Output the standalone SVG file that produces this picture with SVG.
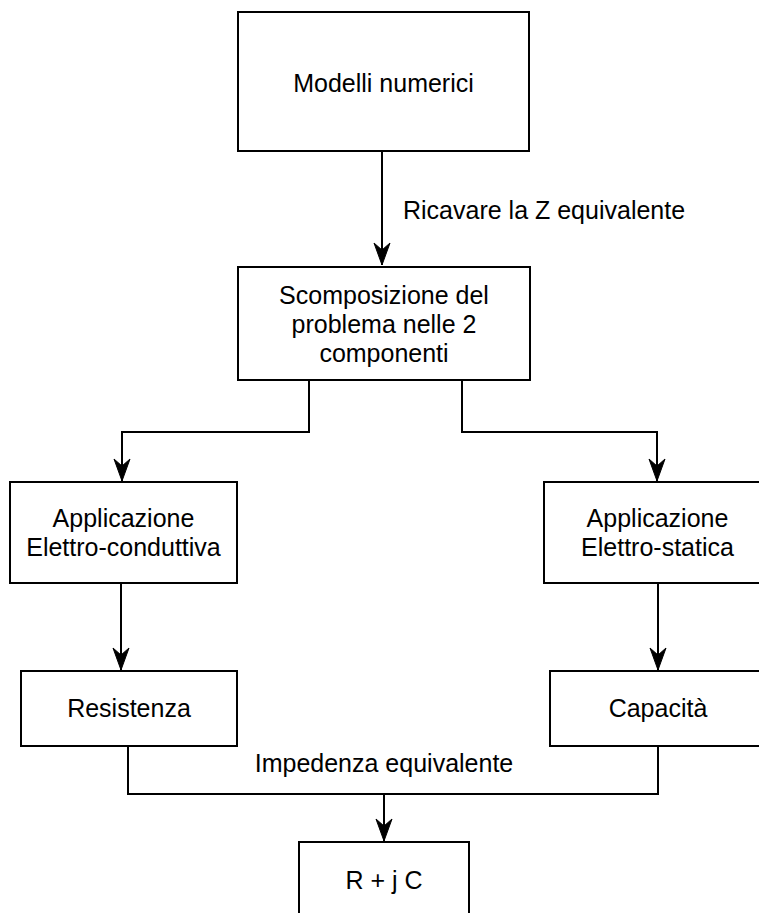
<svg xmlns="http://www.w3.org/2000/svg" width="759" height="913" viewBox="0 0 759 913">
<style>
  .box { fill: #ffffff; stroke: #000000; stroke-width: 2; }
  .lbl { font-family: "Liberation Sans", Arial, Helvetica, sans-serif; font-size: 25px; fill: #000000; }
  .c { text-anchor: middle; }
  .edge { fill: none; stroke: #000000; stroke-width: 2; }
</style>
<defs>
  <marker id="arr" markerUnits="userSpaceOnUse" viewBox="-23 -9 24 18" refX="0" refY="0" markerWidth="24" markerHeight="18" orient="auto">
    <path d="M0,0 L-22,-8 L-15,0 L-22,8 Z" fill="#000000" stroke="#000000" stroke-width="1"/>
  </marker>
</defs>
<rect width="759" height="913" fill="#ffffff"/>

<g id="connectors">
  <path class="edge" d="M382,151 L382,265" marker-end="url(#arr)"/>
  <text class="lbl" x="403" y="219">Ricavare la Z equivalente</text>
  <path class="edge" d="M309,380 L309,432 L122,432 L122,481" marker-end="url(#arr)"/>
  <path class="edge" d="M462,380 L462,432 L657,432 L657,481" marker-end="url(#arr)"/>
  <path class="edge" d="M121,583 L121,670" marker-end="url(#arr)"/>
  <path class="edge" d="M658,583 L658,670" marker-end="url(#arr)"/>
  <path class="edge" d="M128,746 L128,794 L658,794 L658,746"/>
  <path class="edge" d="M384,794 L384,841" marker-end="url(#arr)"/>
  <text class="lbl c" x="384" y="772">Impedenza equivalente</text>
</g>

<g id="node-modelli">
  <rect class="box" x="238" y="12" width="291" height="139"/>
  <text class="lbl c" x="383.5" y="92">Modelli numerici</text>
</g>

<g id="node-scomposizione">
  <rect class="box" x="238" y="267" width="292" height="113"/>
  <text class="lbl c" x="384" y="304">Scomposizione del</text>
  <text class="lbl c" x="384" y="333">problema nelle 2</text>
  <text class="lbl c" x="384" y="362">componenti</text>
</g>

<g id="node-conduttiva">
  <rect class="box" x="10" y="482" width="227" height="101"/>
  <text class="lbl c" x="123.5" y="527">Applicazione</text>
  <text class="lbl c" x="123.5" y="556">Elettro-conduttiva</text>
</g>

<g id="node-statica">
  <rect class="box" x="544" y="482" width="227" height="101"/>
  <text class="lbl c" x="657.5" y="527">Applicazione</text>
  <text class="lbl c" x="657.5" y="556">Elettro-statica</text>
</g>

<g id="node-resistenza">
  <rect class="box" x="21" y="671" width="216" height="75"/>
  <text class="lbl c" x="129" y="717">Resistenza</text>
</g>

<g id="node-capacita">
  <rect class="box" x="550" y="671" width="216" height="75"/>
  <text class="lbl c" x="658" y="717">Capacità</text>
</g>

<g id="node-rjc">
  <rect class="box" x="299" y="842" width="170" height="90"/>
  <text class="lbl c" x="384" y="889">R + j C</text>
</g>
</svg>
